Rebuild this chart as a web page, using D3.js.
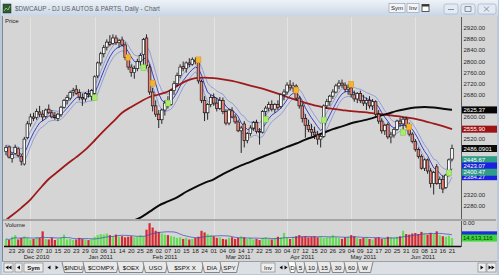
<!DOCTYPE html>
<html>
<head>
<meta charset="utf-8">
<script src="https://cdn.jsdelivr.net/npm/d3@7"></script>
<style>
  body { margin: 0; background: #c6d2e2; }
  svg { display: block; font-family: "Liberation Sans", Arial, sans-serif; }
</style>
</head>
<body>
<div id="chart"></div>
<script>
// daily candles, Nov 19 2010 .. Jun 21 2011 : [open, high, low, close]
const candles = [
  [2475,2498,2462,2490],[2492,2496,2450,2455],[2450,2470,2435,2465],[2468,2500,2462,2490],
  [2485,2490,2455,2460],[2458,2465,2425,2440],[2430,2528,2425,2520],[2525,2585,2520,2575],
  [2575,2612,2565,2600],[2600,2615,2585,2595],[2598,2630,2590,2620],[2618,2640,2600,2610],
  [2610,2625,2585,2600],[2602,2630,2595,2625],[2628,2645,2610,2615],[2615,2625,2595,2600],
  [2600,2618,2590,2598],[2595,2615,2585,2610],[2608,2640,2600,2635],[2635,2665,2630,2660],
  [2660,2680,2645,2670],[2668,2695,2660,2688],[2690,2705,2675,2695],[2700,2715,2680,2685],
  [2688,2700,2660,2672],[2670,2685,2640,2665],[2665,2690,2655,2685],[2685,2700,2670,2680],
  [2675,2700,2660,2695],[2685,2750,2670,2745],[2748,2800,2740,2795],[2795,2835,2785,2828],
  [2828,2860,2815,2850],[2852,2880,2840,2870],[2870,2895,2855,2862],[2865,2898,2860,2885],
  [2885,2895,2860,2868],[2868,2882,2850,2875],[2878,2890,2855,2860],[2860,2870,2805,2815],
  [2812,2820,2770,2780],[2780,2790,2745,2760],[2760,2785,2738,2775],[2775,2810,2765,2800],
  [2800,2830,2785,2822],[2825,2885,2775,2880],[2885,2898,2775,2785],[2780,2790,2680,2690],
  [2690,2705,2620,2640],[2640,2660,2600,2610],[2610,2625,2560,2590],[2590,2630,2575,2625],
  [2625,2660,2605,2650],[2650,2675,2630,2640],[2645,2700,2640,2695],[2695,2730,2680,2720],
  [2720,2760,2710,2750],[2750,2790,2740,2780],[2782,2800,2765,2775],[2775,2800,2760,2795],
  [2795,2812,2780,2790],[2790,2815,2785,2808],[2805,2815,2790,2800],[2798,2805,2720,2730],
  [2728,2735,2650,2660],[2660,2675,2585,2615],[2615,2650,2590,2645],[2645,2680,2635,2670],
  [2670,2685,2640,2650],[2650,2670,2620,2630],[2630,2672,2625,2660],[2660,2670,2610,2620],
  [2620,2628,2570,2578],[2578,2630,2570,2625],[2622,2635,2595,2600],[2600,2610,2575,2582],
  [2582,2590,2545,2550],[2550,2568,2470,2560],[2575,2585,2490,2515],[2515,2545,2505,2540],
  [2540,2570,2530,2560],[2560,2585,2550,2580],[2580,2590,2540,2548],[2548,2560,2500,2545],
  [2545,2625,2540,2620],[2620,2640,2590,2632],[2632,2655,2620,2645],[2645,2660,2620,2628],
  [2628,2650,2615,2645],[2645,2660,2625,2635],[2638,2685,2630,2680],[2680,2700,2660,2690],
  [2690,2725,2680,2715],[2715,2733,2695,2705],[2705,2725,2690,2712],[2712,2718,2660,2668],
  [2668,2675,2630,2640],[2640,2650,2580,2595],[2595,2610,2525,2570],[2570,2590,2545,2555],
  [2555,2575,2530,2545],[2545,2565,2520,2535],[2535,2550,2500,2520],[2520,2540,2490,2530],
  [2530,2645,2525,2640],[2640,2665,2630,2655],[2655,2680,2640,2675],[2675,2700,2665,2690],
  [2690,2720,2685,2712],[2712,2733,2700,2722],[2722,2735,2705,2715],[2715,2725,2690,2700],
  [2700,2718,2680,2705],[2705,2712,2670,2680],[2680,2695,2655,2665],[2665,2690,2650,2685],
  [2685,2695,2650,2660],[2660,2680,2640,2650],[2650,2670,2625,2660],[2660,2675,2630,2640],
  [2640,2665,2625,2655],[2655,2660,2600,2610],[2610,2625,2575,2585],[2585,2595,2540,2550],
  [2550,2575,2535,2570],[2572,2580,2520,2528],[2528,2545,2505,2535],[2535,2560,2525,2555],
  [2555,2590,2550,2585],[2585,2598,2565,2575],[2575,2600,2545,2592],[2592,2600,2560,2568],
  [2568,2580,2530,2538],[2538,2545,2505,2512],[2512,2520,2475,2482],[2482,2490,2450,2458],
  [2458,2465,2410,2415],[2415,2450,2405,2445],[2445,2450,2395,2405],[2405,2415,2345,2360],
  [2360,2405,2320,2400],[2420,2430,2355,2360],[2360,2385,2340,2375],[2375,2390,2325,2340],
  [2345,2395,2340,2390],[2390,2450,2385,2445],[2448,2500,2440,2486.09]
]

// volume, millions of shares
const volumes = [
  13,11,17,20,12,15, 18,15,12,13,16,15, 27, 13,12,15,11,13,15, 21,
  12,13,11,12,15,13,12,11,13, 17,20,22,21,23,20,18,21,17,18,16,17,
  18,16,17,20,18, 30,42,34,28, 26,23,21,20,18,17, 15,16,13,15,12,13,15,17,
  28,25,22,20,18, 15,16,13,12,15,16,13,15,18,16,13,15,
  12,13,11,15,16,13,12,15,17,16,24,15,13, 17,18,20,17,18,16,17,18,16,17,
  15,16,17,20,16,15,13,16,17,20, 18,15,13,15,16,13,12,15,16,13,15,17,16,15,17,18,
  28,22, 21,23,24,22,26,23,21,24,22,27, 20,18,17,19,14.61
]

// day labels, one every third session starting at session 2 (Nov 23)
const tickDays = ["23","29","02","07","10","15","20","23","29","03","06","11","14","20","25","28",
  "02","07","10","15","18","24","01","04","09","14","17","22","25","30","04","07","12","15","20",
  "26","29","04","09","12","17","20","25","31","03","08","13","16","21"]
const monthTicks = [2, 9, 16, 22, 30, 37, 44]   // first labelled day of each month
const monthLabels = [["Dec 2010", 10], ["Jan 2011", 31], ["Feb 2011", 52], ["Mar 2011", 76],
  ["Apr 2011", 97], ["May 2011", 117], ["Jun 2011", 136.5]]

// long moving averages: [session, value]
const redMA = [[0,2228],[2,2245],[5,2272],[8,2302],[11,2340],[14,2376],[17,2403],[20,2430],
  [23,2455],[26,2482],[29,2515],[32,2550],[35,2582],[38,2615],[41,2636],[44,2655],[47,2672],
  [50,2681],[53,2692],[56,2712],[59,2730],[62,2740],[65,2742],[68,2740],[71,2736],[74,2730],
  [77,2722],[80,2713],[83,2705],[86,2695],[89,2684],[92,2672],[95,2662],[98,2651],[101,2642],
  [104,2634],[107,2629],[110,2625],[113,2621],[116,2618],[119,2615],[122,2611],[125,2607],
  [128,2603],[131,2598],[134,2593],[137,2585],[140,2576],[143,2567],[146,2556]]
const blackMA = [[38,2205],[41,2222],[44,2237],[47,2258],[50,2280],[53,2295],[56,2310],
  [59,2330],[62,2347],[65,2362],[68,2375],[71,2394],[74,2410],[77,2425],[80,2438],[83,2452],
  [86,2465],[89,2478],[92,2492],[95,2504],[98,2518],[101,2530],[104,2543],[107,2556],[110,2566],
  [113,2577],[116,2585],[119,2593],[122,2603],[125,2612],[128,2622],[131,2629],[134,2634],
  [137,2636],[140,2634],[143,2630],[146,2626]]

// signal flags: [session, price]
const buySignals = [[29,2670],[45,2778],[53,2650],[85,2592],[104,2589],[130,2545],[145,2398]]
const sellSignals = [[40,2815],[48,2722],[63,2806],[95,2697],[113,2718],[132,2564]]

// last-value flags on the price scale
const priceFlags = [
  [2625.37, "2625.37", "#050505"],
  [2555.90, "2555.90", "#9c1414"],
  [2486.0901, "2486.0901", "#0a0a0a"],
  [2384.27, "2384.27", "#1a22e0"],
  [2445.67, "2445.67", "#2f9e88"],
  [2423.07, "2423.07", "#1a22e0"],
  [2400.47, "2400.47", "#2f9e88"]
]
const priceTicks = d3.range(2280, 2921, 40)
const symbolTabs = ["$INDU", "$COMPX", "$OEX", "USO", "$SPX X", "DIA", "SPY"]
const intervalTabs = ["D", "5", "10", "15", "30", "60", "W"]


const W = 499, H = 275
const plotL = 4, plotR = 461, plotT = 17, plotB = 219
const volT = 221, volB = 246

const svg = d3.select("#chart").append("svg")
  .attr("width", W).attr("height", H)

// window chrome
const defs = svg.append("defs")
const tg = defs.append("linearGradient").attr("id", "tbar").attr("x1", 0).attr("y1", 0).attr("x2", 0).attr("y2", 1)
tg.append("stop").attr("offset", 0).attr("stop-color", "#eef2f8")
tg.append("stop").attr("offset", 1).attr("stop-color", "#c9d6e6")
defs.append("clipPath").attr("id", "pclip").append("rect")
  .attr("x", plotL).attr("y", plotT).attr("width", plotR - plotL).attr("height", plotB - plotT)

svg.append("rect").attr("width", W).attr("height", H).attr("fill", "#b9c8db")
svg.append("rect").attr("x", 1).attr("y", 0).attr("width", W - 2).attr("height", 16).attr("fill", "url(#tbar)")

// title bar
svg.append("rect").attr("x", 3).attr("y", 4).attr("width", 8).attr("height", 9).attr("fill", "#2f5a34").attr("stroke", "#1c3320").attr("stroke-width", 0.5)
svg.append("path").attr("d", "M4,11 L6,8 L8,10 L10,6").attr("fill", "none").attr("stroke", "#9fe08a").attr("stroke-width", 0.8)
svg.append("text").attr("x", 15).attr("y", 11).attr("font-size", 6.3).attr("fill", "#5a5f66")
  .text("$DWCAUP - DJ US AUTOS & PARTS, Daily - Chart")

var smallBtn = function (x, y, w, h, label) {
  svg.append("rect").attr("x", x).attr("y", y).attr("width", w).attr("height", h)
    .attr("fill", "#f2f4f7").attr("stroke", "#8d99a8").attr("stroke-width", 0.6)
  if (label) svg.append("text").attr("x", x + w / 2).attr("y", y + h / 2 + 2).attr("text-anchor", "middle")
    .attr("font-size", 6).attr("fill", "#222").text(label)
}
smallBtn(389, 3.5, 16, 9, "Sym")
smallBtn(407, 3.5, 12, 9, "Inv")
svg.append("rect").attr("x", 422).attr("y", 4.5).attr("width", 7).attr("height", 7).attr("fill", "#fff").attr("stroke", "#333").attr("stroke-width", 0.8)
svg.append("rect").attr("x", 422).attr("y", 4.5).attr("width", 7).attr("height", 2).attr("fill", "#333")

var winBtn = function (x, w, glyph) {
  svg.append("rect").attr("x", x).attr("y", 4).attr("width", w).attr("height", 10).attr("rx", 2)
    .attr("fill", "#e3eaf3").attr("stroke", "#9aa9bd").attr("stroke-width", 0.6)
  svg.append("path").attr("d", glyph).attr("fill", "none").attr("stroke", "#6e7b8c").attr("stroke-width", 0.8)
}
winBtn(444, 14, "M448,9.5 L454,9.5")
winBtn(461, 14, "M465,6.5 h6 v5 h-6 z")
winBtn(478, 18, "M484,6.5 l5,5 M489,6.5 l-5,5")

// chart body
svg.append("rect").attr("x", 2).attr("y", 16).attr("width", W - 4).attr("height", 245).attr("fill", "#d5d5d5")
svg.append("line").attr("x1", 2.5).attr("x2", 2.5).attr("y1", 16).attr("y2", 261).attr("stroke", "#7f8790")

const x = d3.scaleLinear().domain([0, candles.length - 1]).range([6, 452])
const y = d3.scaleLinear().domain([2280, 2920]).range([205.6, 28.3])
const yv = d3.scaleLinear().domain([0, 46]).range([volB, volB - 25])

// month grid
const grid = svg.append("g").attr("stroke", "#e6e6e6").attr("stroke-width", 0.8)
monthTicks.forEach(function (k) {
  var gx = Math.round(x(2 + 3 * k)) + 0.5
  grid.append("line").attr("x1", gx).attr("x2", gx).attr("y1", plotT).attr("y2", plotB)
  grid.append("line").attr("x1", gx).attr("x2", gx).attr("y1", volT).attr("y2", volB)
})

svg.append("text").attr("x", 5).attr("y", 23).attr("font-size", 6).attr("fill", "#222").text("Price")

const plot = svg.append("g").attr("clip-path", "url(#pclip)")

// short channel: EMA of highs / lows / midpoints
var ema = function (vals, n) {
  var k = 2 / (n + 1), out = [], prev = vals[0]
  vals.forEach(function (v) { prev = prev + k * (v - prev); out.push(prev) })
  return out
}
const upper = ema(candles.map(d => d[1]), 6)
const lower = ema(candles.map(d => d[2]), 6)
const middle = ema(candles.map(d => (d[1] + d[2]) / 2), 6)

var seriesLine = d3.line().x((d, i) => x(i)).y(d => y(d))
plot.append("path").attr("d", seriesLine(upper)).attr("fill", "none").attr("stroke", "#7d8fdc").attr("stroke-width", 0.8)
plot.append("path").attr("d", seriesLine(lower)).attr("fill", "none").attr("stroke", "#7d8fdc").attr("stroke-width", 0.8)
plot.append("path").attr("d", seriesLine(middle)).attr("fill", "none").attr("stroke", "#2430c8").attr("stroke-width", 0.9)

var maLine = d3.line().x(d => x(d[0])).y(d => y(d[1])).curve(d3.curveMonotoneX)
plot.append("path").attr("d", maLine(redMA)).attr("fill", "none").attr("stroke", "#9e1a1a").attr("stroke-width", 1.8)
plot.append("path").attr("d", maLine(blackMA)).attr("fill", "none").attr("stroke", "#0b0b0b").attr("stroke-width", 2)

// candles
const bw = 2.6
plot.append("g").selectAll("line").data(candles).join("line")
  .attr("x1", (d, i) => x(i)).attr("x2", (d, i) => x(i))
  .attr("y1", d => y(d[1])).attr("y2", d => y(d[2]))
  .attr("stroke", "#111").attr("stroke-width", 0.9)
plot.append("g").selectAll("rect").data(candles).join("rect")
  .attr("x", (d, i) => x(i) - bw / 2).attr("width", bw)
  .attr("y", d => y(Math.max(d[0], d[3])))
  .attr("height", d => Math.max(0.8, Math.abs(y(d[0]) - y(d[3]))))
  .attr("fill", d => d[3] >= d[0] ? "#ffffff" : "#ec8379")
  .attr("stroke", "#151515").attr("stroke-width", 0.7)

// signal flags
plot.append("g").selectAll("rect").data(buySignals).join("rect")
  .attr("x", d => x(d[0]) - 2.5).attr("y", d => y(d[1]) - 3).attr("width", 5).attr("height", 6)
  .attr("fill", "#a8ec6c").attr("stroke", "#6cb83c").attr("stroke-width", 0.4)
plot.append("g").selectAll("rect").data(sellSignals).join("rect")
  .attr("x", d => x(d[0]) - 2.5).attr("y", d => y(d[1]) - 3).attr("width", 5).attr("height", 6)
  .attr("fill", "#f4b430").attr("stroke", "#d08a10").attr("stroke-width", 0.4)

// price scale; tick labels that sit under a value flag are covered, so leave them out
svg.append("line").attr("x1", plotR + 0.5).attr("x2", plotR + 0.5).attr("y1", plotT).attr("y2", volB + 1)
  .attr("stroke", "#5c5c5c").attr("stroke-width", 1)
const freeTicks = priceTicks.filter(t => priceFlags.every(f => Math.abs(y(t) - y(f[0])) > 6.8))
svg.append("g").selectAll("text").data(freeTicks).join("text")
  .attr("x", 463.5).attr("y", d => y(d) + 2).attr("font-size", 6).attr("fill", "#2a2a2a")
  .text(d => d3.format(".2f")(d))
const flags = svg.append("g").selectAll("g").data(priceFlags).join("g")
  .attr("transform", d => `translate(462,${y(d[0])})`)
flags.append("rect").attr("x", 0).attr("y", -3.5).attr("width", 35).attr("height", 7).attr("fill", d => d[2])
flags.append("text").attr("x", 1.5).attr("y", 2.2).attr("font-size", 6).attr("fill", "#fff").text(d => d[1])

// panel separator
svg.append("rect").attr("x", 3).attr("y", plotB).attr("width", W - 6).attr("height", 2).attr("fill", "#a6a6a6")

// volume panel
svg.append("text").attr("x", 5).attr("y", 227).attr("font-size", 6).attr("fill", "#222").text("Volume")
svg.append("g").selectAll("rect").data(volumes).join("rect")
  .attr("x", (d, i) => x(i) - 1.1).attr("width", 2.2)
  .attr("y", d => yv(d)).attr("height", d => volB - yv(d))
  .attr("fill", (d, i) => candles[i][3] >= candles[i][0] ? "#66dd55" : "#d42a32")

const volAvg = volumes.map(function (v, i) {
  var s = volumes.slice(Math.max(0, i - 9), i + 1)
  return d3.mean(s)
})
svg.append("path").attr("d", d3.line().x((d, i) => x(i)).y(d => yv(d))(volAvg))
  .attr("fill", "none").attr("stroke", "#3048c0").attr("stroke-width", 0.7)
svg.append("line").attr("x1", plotL).attr("x2", plotR).attr("y1", volB + 0.5).attr("y2", volB + 0.5)
  .attr("stroke", "#111").attr("stroke-width", 1.4)

svg.append("text").attr("x", 463).attr("y", 224.5).attr("font-size", 6).attr("fill", "#2a2a2a").text("0.00")
svg.append("rect").attr("x", 462).attr("y", yv(volAvg[volAvg.length - 1]) - 3.5).attr("width", 35).attr("height", 7).attr("fill", "#1a30d8")
svg.append("rect").attr("x", 462).attr("y", yv(volumes[volumes.length - 1]) - 3.5).attr("width", 35).attr("height", 7).attr("fill", "#3ed83a")
svg.append("text").attr("x", 463).attr("y", yv(volumes[volumes.length - 1]) + 2.2).attr("font-size", 6).attr("fill", "#0b3a0b")
  .text(d3.format(",")(Math.round(volumes[volumes.length - 1] * 1e6 + 3116)))

// date axis
svg.append("g").selectAll("text").data(tickDays).join("text")
  .attr("x", (d, k) => x(2 + 3 * k)).attr("y", 253).attr("text-anchor", "middle")
  .attr("font-size", 6).attr("fill", "#222").text(d => d)
svg.append("g").selectAll("text").data(monthLabels).join("text")
  .attr("x", d => x(d[1])).attr("y", 259).attr("text-anchor", "middle")
  .attr("font-size", 6).attr("fill", "#222").text(d => d[0])

// bottom toolbar
svg.append("rect").attr("x", 2).attr("y", 261).attr("width", W - 4).attr("height", 13).attr("fill", "#dcdfe4")
svg.append("line").attr("x1", 2).attr("x2", W - 2).attr("y1", 261.5).attr("y2", 261.5).attr("stroke", "#9aa0a8")

var tbBtn = function (x0, w, label, bold) {
  svg.append("rect").attr("x", x0).attr("y", 263).attr("width", w).attr("height", 9)
    .attr("fill", "#eeeeee").attr("stroke", "#7a7a7a").attr("stroke-width", 0.6)
  svg.append("text").attr("x", x0 + w / 2).attr("y", 270).attr("text-anchor", "middle")
    .attr("font-size", 6).attr("font-weight", bold ? "bold" : "normal").attr("fill", "#111").text(label)
}
var tri = function (cx, dir) {
  svg.append("path").attr("d", dir < 0 ? `M${cx + 1.5},265.5 L${cx - 1.5},267.5 L${cx + 1.5},269.5 Z` : `M${cx - 1.5},265.5 L${cx + 1.5},267.5 L${cx - 1.5},269.5 Z`)
    .attr("fill", "#111")
}
tbBtn(4, 9, ""); tri(7, -1); tri(10, -1)
tbBtn(15, 7, ""); tri(18.5, -1)
tbBtn(24, 19, "Sym", true)
tri(49, -1); tri(57, 1)

// sheet-style tabs: edges[i]..edges[i+1] is one tab
var tabs = function (edges, labels, selected) {
  labels.forEach(function (t, i) {
    var a = edges[i], b = edges[i + 1]
    svg.append("path").attr("d", `M${a - 1},262 L${a + 1.5},272.5 L${b - 1.5},272.5 L${b + 1},262`)
      .attr("fill", i === selected ? "#ffffff" : "#e9e9e9").attr("stroke", "#444").attr("stroke-width", 0.6)
    svg.append("text").attr("x", (a + b) / 2).attr("y", 270).attr("text-anchor", "middle")
      .attr("font-size", 6.2).attr("fill", "#111").text(t)
  })
}
tabs([63, 84, 118, 144, 167, 203, 221, 238], symbolTabs, -1)
tbBtn(261, 14, "Inv", false)
tri(281, -1); tri(286, 1)
tabs([289, 296, 305, 318, 331, 345, 358, 372], intervalTabs, 0)
tbBtn(478, 8, ""); tri(482, 1)
tbBtn(487, 9, ""); tri(490, 1); tri(493, 1)
</script>
</body>
</html>
